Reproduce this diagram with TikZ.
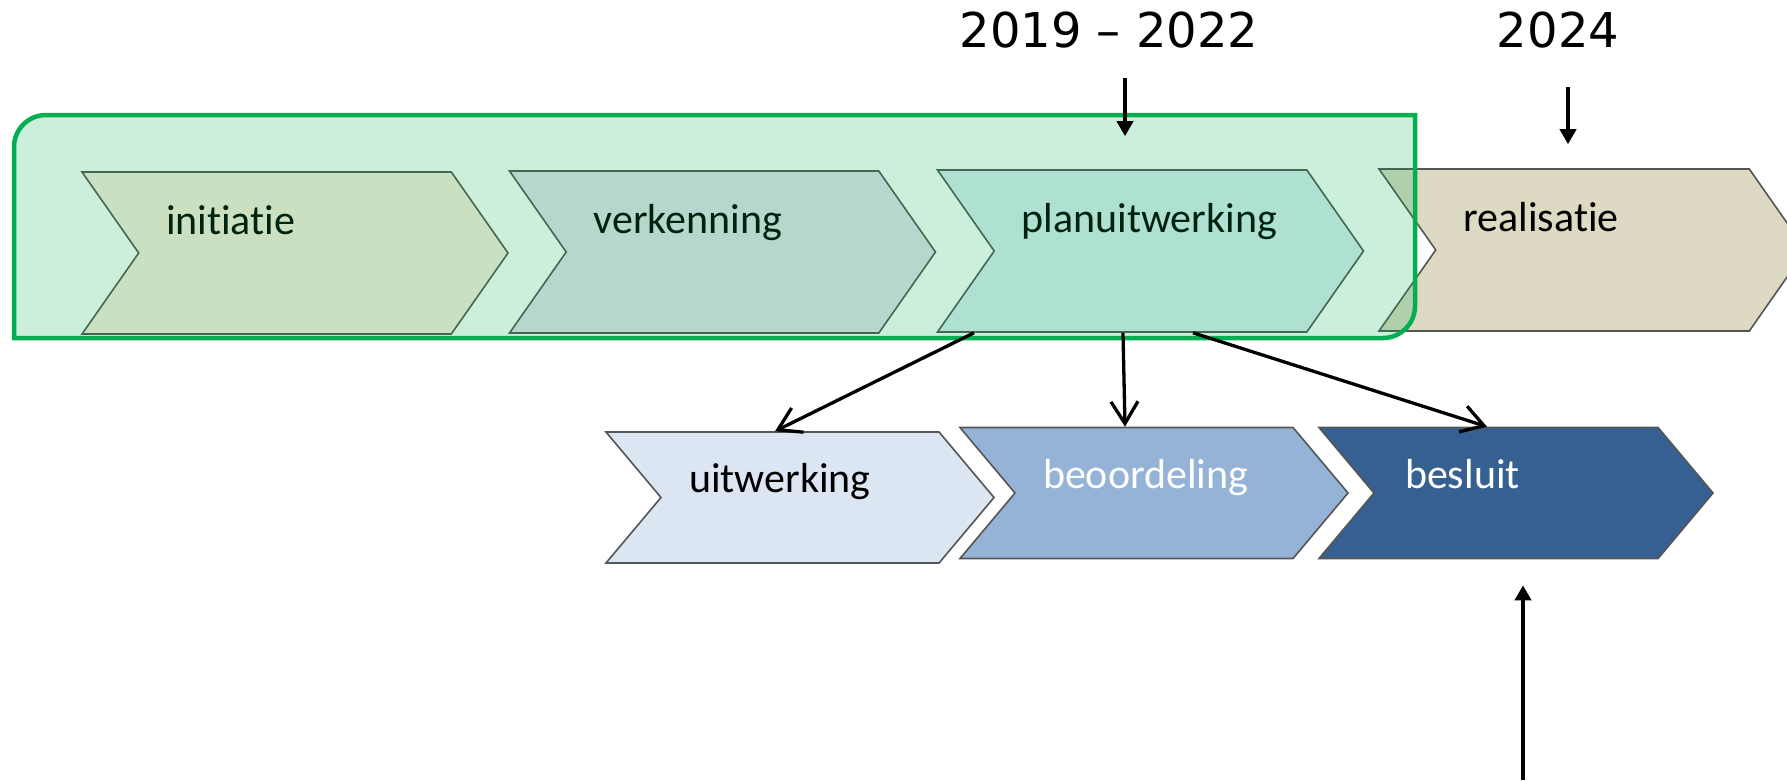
\documentclass[tikz,border=0pt]{standalone}
\usepackage{fontspec}
\usetikzlibrary{arrows.meta,shapes.symbols,calc}
\newfontfamily\fasefont[Ligatures=NoCommon]{Carlito}
\newfontfamily\jaarfont{DejaVu Sans}
\definecolor{kadergroen}{RGB}{0,176,80}
\definecolor{oranjelicht}{RGB}{254,236,221}
\definecolor{paarslicht}{RGB}{229,224,236}
\definecolor{aqualicht}{RGB}{218,238,243}
\definecolor{beige}{RGB}{221,217,195}
\definecolor{blauwlicht}{RGB}{220,230,242}
\definecolor{blauwmidden}{RGB}{149,179,215}
\definecolor{blauwdonker}{RGB}{55,96,146}
\definecolor{randgrijs}{RGB}{85,85,85}
\tikzset{
  fase/.style={
    signal, signal from=west, signal to=east,
    draw=randgrijs, line width=1.6pt,
    inner sep=0pt, align=left, text=black,
    font=\fasefont\fontsize{42}{48}\selectfont
  },
  fasegroot/.style={fase, signal pointer angle=110,
    minimum width=426pt, minimum height=162pt,
    text width=258pt, text height=32pt, text depth=70pt},
  faseklein/.style={fase, signal pointer angle=100,
    minimum width=388pt, minimum height=131pt,
    text width=222pt, text height=32pt, text depth=42pt},
  jaar/.style={inner sep=0pt, font=\jaarfont\fontsize{48}{52}\selectfont},
  kader/.style={draw=kadergroen, line width=4.5pt, fill=kadergroen, fill opacity=0.2},
  kop/.style={-{Triangle[length=15pt,width=16pt]}, line width=4pt},
  pijl/.style={-{Straight Barb[length=22pt,width=27pt]}, line width=3.3pt},
}
\begin{document}
\begin{tikzpicture}[x=1pt,y=-1pt]
\useasboundingbox (0,0) rectangle (1787,780);
\fill[white] (0,0) rectangle (1787,780);
\clip (0,0) rectangle (1787,780);
% --- Nodes ---
\node[jaar, anchor=base] (periode) at (1109,47) {2019 – 2022};
\node[jaar, anchor=base] (jaar24) at (1558,47) {2024};
\node[fasegroot, fill=oranjelicht] (initiatie) at (295,253) {initiatie};
\node[fasegroot, fill=paarslicht] (verkenning) at (722.5,252) {verkenning};
\node[fasegroot, fill=aqualicht] (planuitwerking) at (1150.5,251) {planuitwerking};
\node[fasegroot, fill=beige, minimum width=427pt] (realisatie) at (1592.5,250) {realisatie};
% green frame over the first three phases
\draw[kader] (14,338) -- (14,147) arc[start angle=180, end angle=90, radius=32pt]
  -- (1415,115) -- (1415,306) arc[start angle=0, end angle=-90, radius=32pt] -- cycle;
\node[faseklein, fill=blauwlicht] (uitwerking) at (800,497.5) {uitwerking};
\node[faseklein, fill=blauwmidden, text=white] (beoordeling) at (1154,493) {beoordeling};
\node[faseklein, fill=blauwdonker, text=white, minimum width=394pt] (besluit) at (1516,493) {besluit};
\coordinate (onder) at (1523,780);
% --- Arrows ---
\draw[kop] ([shift={(16,30)}]periode.south) -- ([shift={(-25.5,-33)}]planuitwerking.north);
\draw[kop] ([shift={(10,39)}]jaar24.south) -- ([shift={(-24.5,-24)}]realisatie.north);
\draw[pijl] ([xshift=-176.5pt]planuitwerking.south) -- ([xshift=-25pt]uitwerking.north);
\draw[pijl] ([xshift=-27.5pt]planuitwerking.south) -- ([xshift=-29pt]beoordeling.north);
\draw[pijl] ([xshift=42.5pt]planuitwerking.south) -- ([xshift=-29pt]besluit.north);
\draw[kop] (onder) -- ($(besluit.south -| onder)+(0,26)$);
\end{tikzpicture}
\end{document}
